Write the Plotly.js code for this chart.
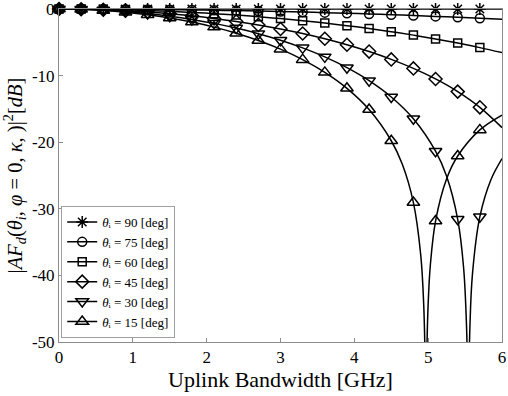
<!DOCTYPE html>
<html>
<head>
<meta charset="utf-8">
<script src="https://cdn.plot.ly/plotly-3.0.1.min.js"></script>
<style>
  html, body { margin: 0; padding: 0; background: #fff; }
  #chart { width: 508px; height: 396px; }
</style>
</head>
<body>
<div id="chart"></div>
<script>
// ── DATA ──────────────────────────────────────────────
const bw = [0, 0.3, 0.6, 0.9, 1.2, 1.5, 1.8, 2.1, 2.4, 2.7, 3.0, 3.3, 3.6, 3.9, 4.2, 4.5, 4.8, 5.1, 5.4, 5.7, 6.0];

const af90 = [0, 0, 0, 0, 0, 0, 0, 0, 0, 0, 0, 0, 0, 0, 0, 0, 0, 0, 0, 0, 0];
const af75 = [0, -0.004, -0.015, -0.034, -0.060, -0.094, -0.135, -0.184, -0.241, -0.305, -0.377, -0.457, -0.545, -0.641, -0.745, -0.858, -0.979, -1.109, -1.247, -1.394, -1.551];
const af60 = [0, -0.014, -0.056, -0.126, -0.224, -0.352, -0.508, -0.695, -0.912, -1.161, -1.443, -1.759, -2.111, -2.501, -2.931, -3.404, -3.922, -4.491, -5.114, -5.797, -6.548];
const af45 = [0, -0.028, -0.112, -0.253, -0.451, -0.709, -1.029, -1.413, -1.867, -2.391, -2.996, -3.686, -4.474, -5.369, -6.392, -7.571, -8.923, -10.505, -12.405, -14.765, -17.808];
const af30 = [0, -0.042, -0.168, -0.380, -0.680, -1.073, -1.563, -2.158, -2.867, -3.703, -4.684, -5.835, -7.191, -8.809, -10.760, -13.214, -16.484, -21.351, -31.578, -31.186, -22.453];
const af15 = [0, -0.052, -0.209, -0.474, -0.850, -1.343, -1.963, -2.721, -3.634, -4.725, -6.029, -7.604, -9.515, -11.910, -15.101, -19.782, -29.066, -31.838, -22.072, -18.155, -15.925];

// extra curve samples around the nulls (no markers there)
const bw30x = [5.25, 5.48, 5.52, 5.535, 5.5426, 5.55, 5.565, 5.6, 5.85];
const af30x = [-25.119, -38.85, -47.77, -57.30, -120, -57.45, -47.89, -39.78, -25.63];
const bw15x = [4.65, 4.9, 4.94, 4.96, 4.9693, 4.98, 5.0, 5.03, 5.25];
const af15x = [-23.324, -36.99, -44.53, -54.52, -120, -53.38, -44.24, -38.37, -25.485];

const thetas  = [90, 75, 60, 45, 30, 15];
const symbols = ['asterisk-open', 'circle-open', 'square-open', 'diamond-open', 'triangle-down-open', 'triangle-up-open'];
const msizes  = [10, 9, 8, 10, 11, 11];

const SERIES = [
  { y: af90 },
  { y: af75 },
  { y: af60 },
  { y: af45 },
  { y: af30, xx: bw30x, yx: af30x },
  { y: af15, xx: bw15x, yx: af15x }
];

const FONT = 'Liberation Serif, Times New Roman, serif';
const INK = '#000';

// ── TRACES ──────────────────────────────────────────
const traces = [];

// curves
SERIES.forEach(s => {
  let pts = bw.map((x, i) => [x, s.y[i]]);
  if (s.xx) pts = pts.concat(s.xx.map((x, i) => [x, s.yx[i]]));
  pts.sort((a, b) => a[0] - b[0]);
  traces.push({
    x: pts.map(p => p[0]), y: pts.map(p => p[1]),
    type: 'scatter', mode: 'lines',
    line: { color: INK, width: 1.5, shape: 'spline', smoothing: 1 },
    showlegend: false, hoverinfo: 'skip'
  });
});

// markers every 0.3 GHz (not at 6)
SERIES.forEach((s, k) => {
  traces.push({
    x: bw.slice(0, 20), y: s.y.slice(0, 20),
    type: 'scatter', mode: 'markers', cliponaxis: false,
    marker: { symbol: symbols[k], size: msizes[k], color: INK, line: { color: INK, width: 1.5 } },
    showlegend: false
  });
});

// legend entries
thetas.forEach((t, k) => {
  traces.push({
    x: [null], y: [null],
    type: 'scatter', mode: 'lines+markers',
    name: `<i>θ</i>ᵢ = ${t} [deg]`,
    line: { color: INK, width: 1.5 },
    marker: { symbol: symbols[k], size: msizes[k], color: INK, line: { color: INK, width: 1.5 } }
  });
});

const axisBase = {
  showgrid: false, zeroline: false,
  showline: true, linecolor: '#8c8c8c', linewidth: 1, mirror: true,
  ticks: 'inside', ticklen: 4, tickcolor: '#8c8c8c', tickwidth: 1,
  ticklabeloverflow: 'allow',
  tickfont: { family: FONT, size: 17, color: INK }
};

const layout = {
  width: 508, height: 396,
  margin: { l: 59, r: 6, t: 9, b: 54 },
  paper_bgcolor: '#fff', plot_bgcolor: '#fff',
  font: { family: FONT, color: INK },
  showlegend: true,
  legend: {
    x: 0.005, y: 0.012, xanchor: 'left', yanchor: 'bottom',
    bgcolor: '#fff', bordercolor: '#a0a0a0', borderwidth: 1,
    font: { family: FONT, size: 13, color: INK },
    itemwidth: 30, tracegroupgap: 0
  },
  xaxis: {
    ...axisBase,
    range: [0, 6], dtick: 1, tickformat: 'd',
    title: { text: 'Uplink Bandwidth [GHz]', font: { family: FONT, size: 22, color: INK }, standoff: 3 }
  },
  yaxis: {
    ...axisBase,
    range: [-50, 0], dtick: 10,
    tickvals: [-50, -40, -30, -20, -10, 0],
    ticktext: ['-50', '-40', '-30', '-20', '-10', '0'],
    title: {
      text: '|<i>AF</i><sub><i>d</i></sub>(<i>θ</i><sub><i>i</i></sub>, <i>φ</i> = 0, <i>κ</i>, )|<sup>2</sup>[<i>dB</i>]',
      font: { family: FONT, size: 20.5, color: INK }, standoff: 4
    }
  }
};

Plotly.newPlot('chart', traces, layout, { displayModeBar: false, staticPlot: true });
</script>
</body>
</html>
